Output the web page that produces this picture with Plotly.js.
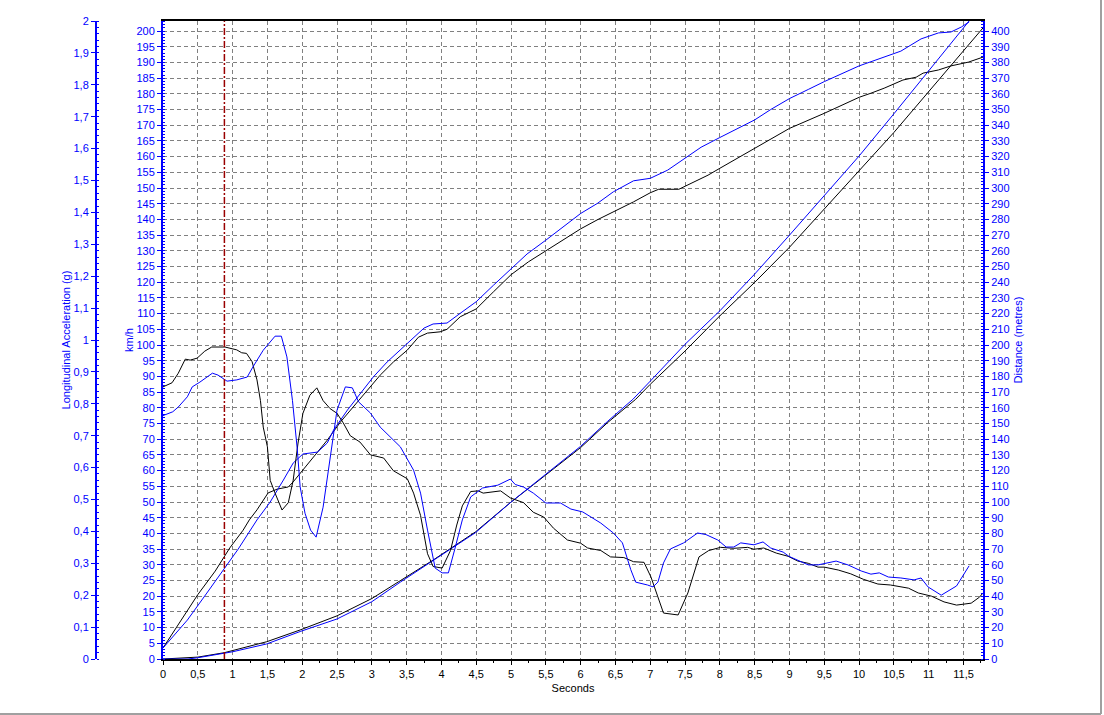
<!DOCTYPE html>
<html>
<head>
<meta charset="utf-8">
<script src="https://cdn.plot.ly/plotly-3.0.1.min.js"></script>
<style>
html,body{margin:0;padding:0;background:#fff;}
#chart{width:1104px;height:715px;}
</style>
</head>
<body>
<div id="chart"></div>
<script>
// ---- Run A (black) ----
var tAccA = [0,0.13,0.22,0.32,0.39,0.49,0.60,0.70,0.89,1.06,1.13,1.20,1.28,1.35,1.40,1.44,1.50,1.54,1.61,1.71,1.80,1.87,1.94,2.01,2.11,2.21,2.30,2.40,2.50,2.59,2.69,2.83,2.98,3.17,3.31,3.41,3.51,3.60,3.70,3.80,3.88,4.01,4.13,4.22,4.30,4.42,4.53,4.60,4.85,4.99,5.18,5.32,5.47,5.61,5.81,6.00,6.10,6.29,6.43,6.62,6.76,6.91,7.01,7.19,7.40,7.54,7.70,7.84,8.01,8.20,8.40,8.49,8.63,8.81,8.98,9.12,9.27,9.41,9.50,9.70,9.88,10.06,10.27,10.45,10.71,10.85,11.04,11.22,11.40,11.61,11.73,11.78];
var accA  = [0.853,0.866,0.896,0.94,0.937,0.943,0.965,0.978,0.978,0.969,0.96,0.958,0.932,0.875,0.81,0.727,0.665,0.56,0.52,0.467,0.49,0.56,0.677,0.77,0.827,0.85,0.81,0.785,0.77,0.74,0.70,0.68,0.64,0.63,0.59,0.577,0.565,0.52,0.45,0.33,0.29,0.285,0.34,0.42,0.48,0.525,0.527,0.52,0.527,0.505,0.49,0.46,0.445,0.41,0.373,0.363,0.348,0.34,0.32,0.318,0.305,0.303,0.257,0.144,0.138,0.207,0.32,0.34,0.35,0.347,0.35,0.344,0.348,0.332,0.322,0.307,0.30,0.288,0.288,0.279,0.267,0.25,0.235,0.232,0.222,0.207,0.197,0.179,0.169,0.175,0.194,0.207];

var tSpdA = [0,0.25,0.50,0.75,0.96,1.15,1.24,1.35,1.51,1.64,1.80,1.87,2.01,2.16,2.36,2.55,2.73,2.94,3.12,3.31,3.51,3.67,3.80,3.98,4.08,4.27,4.50,4.75,5.00,5.25,5.50,5.75,6.00,6.25,6.50,6.76,7.00,7.12,7.41,7.50,7.83,8.00,8.50,9.00,9.50,10.00,10.17,10.36,10.63,10.82,10.92,11.14,11.32,11.57,11.78];
var spdA  = [3.5,12,20.5,28,35.4,41,44.3,47.5,52.9,54.1,54.8,56.4,60.2,64.3,69.7,75.5,80.3,85.7,90.4,94.6,98.4,102.5,103.8,104.2,105,109,111.5,117,122.4,126.5,130,133.5,137,140,142.7,145.6,148.5,149.6,149.6,150.6,154.1,156.3,162.6,169,173.8,178.9,180.2,181.8,184.4,185.3,186.6,187.6,188.9,190.1,191.7];

var tDstA = [0,0.3,0.5,0.88,1.0,1.49,1.97,2.5,3.0,3.41,3.88,4.49,4.99,5.32,6.0,6.39,6.79,7.0,7.5,8.0,8.5,9.0,9.5,10.0,10.5,11.0,11.5,11.78];
var dstA  = [0,0.5,1.2,4.0,5.4,11,18.5,27.5,38.5,50,63,81,99.6,111,134.7,150.7,165.4,175,196.2,218.6,239.9,262.3,286.7,310.5,335.4,361.4,387.5,402];

// ---- Run B (blue) ----
var tAccB = [0,0.14,0.22,0.35,0.42,0.53,0.71,0.79,0.92,1.06,1.21,1.29,1.44,1.61,1.70,1.78,1.86,1.93,1.97,2.04,2.12,2.20,2.30,2.40,2.50,2.62,2.72,2.81,2.98,3.12,3.27,3.41,3.60,3.70,3.80,3.91,4.01,4.10,4.20,4.30,4.42,4.59,4.81,4.99,5.06,5.18,5.32,5.50,5.71,5.86,6.03,6.14,6.29,6.47,6.60,6.72,6.79,6.96,7.04,7.11,7.19,7.29,7.48,7.68,7.80,7.97,8.09,8.20,8.30,8.49,8.62,8.73,8.91,8.99,9.27,9.41,9.53,9.67,9.84,10.03,10.17,10.29,10.42,10.60,10.79,10.89,10.99,11.18,11.40,11.58];
var accB  = [0.763,0.775,0.79,0.822,0.853,0.868,0.896,0.89,0.871,0.875,0.884,0.915,0.968,1.012,1.012,0.947,0.81,0.655,0.54,0.457,0.404,0.382,0.476,0.633,0.78,0.853,0.85,0.806,0.771,0.727,0.696,0.665,0.592,0.52,0.404,0.285,0.27,0.27,0.351,0.436,0.508,0.536,0.545,0.564,0.547,0.539,0.52,0.489,0.489,0.47,0.461,0.445,0.426,0.395,0.364,0.28,0.241,0.232,0.226,0.241,0.301,0.345,0.364,0.395,0.39,0.373,0.351,0.351,0.364,0.358,0.367,0.348,0.335,0.322,0.295,0.295,0.301,0.307,0.295,0.276,0.266,0.27,0.257,0.254,0.248,0.254,0.226,0.2,0.229,0.292];

var tSpdB = [0,0.35,0.63,0.86,1.08,1.35,1.54,1.73,1.87,2.01,2.22,2.36,2.45,2.65,2.84,3.02,3.22,3.41,3.60,3.75,3.88,4.08,4.27,4.50,4.75,5.00,5.23,5.50,5.76,6.00,6.24,6.47,6.76,7.00,7.25,7.50,7.73,8.00,8.30,8.50,8.73,9.00,9.27,9.50,10.00,10.36,10.60,10.89,11.14,11.32,11.47,11.58];
var spdB  = [3.5,12.4,21,28.3,35,44.3,50,57,62.4,65.3,65.9,68.8,72.9,79.3,84.7,89.8,94.6,98.4,102.5,105.4,106.7,107,110.1,113.8,119.1,124.4,129,133.4,137.7,141.9,145.1,148.8,152.3,153.1,155.7,159.5,163,166.1,169.5,171.7,175,178.5,181.4,183.9,188.9,191.7,193.6,197.5,199.4,199.7,201.3,202.9];

var tDstB = [0,0.36,0.5,0.88,1.0,1.49,1.97,2.5,3.0,3.41,3.88,4.49,4.99,5.32,6.0,6.39,6.75,7.0,7.5,8.0,8.5,9.0,9.5,10.0,10.5,11.0,11.5,11.58];
var dstB  = [0,0,0.8,3.5,4.6,9.6,17.5,25.5,36.5,49,62.5,80.5,99.6,111.5,135.5,151.5,165.4,177,200.5,221.8,245.2,270,295.2,320.4,347.3,374.6,402,406.4];

var markerTime = 0.882;

var BLUE = '#0000ff';
var FONT = 'Liberation Sans, Arial, sans-serif';

function ln(x, y, color, yaxis) {
  return {x: x, y: y, type: 'scatter', mode: 'lines', yaxis: yaxis,
          line: {color: color, width: 1}, hoverinfo: 'skip', showlegend: false};
}

var data = [
  ln(tDstA, dstA, '#000000', 'y2'),
  ln(tDstB, dstB, BLUE, 'y2'),
  ln(tSpdA, spdA, '#000000', 'y'),
  ln(tSpdB, spdB, BLUE, 'y'),
  ln(tAccA, accA, '#000000', 'y3'),
  ln(tAccB, accB, BLUE, 'y3')
];

var L = 30, R = 121, W = 1104;
var pw = W - L - R;
var xStart = (163 - L) / pw;
var y3pos = (96 - L) / pw;

var layout = {
  width: 1104, height: 715,
  margin: {l: L, r: R, t: 21, b: 56, pad: 0},
  paper_bgcolor: '#ffffff', plot_bgcolor: '#ffffff',
  separators: ',.',
  font: {family: FONT, size: 11, color: BLUE},
  showlegend: false,
  xaxis: {
    domain: [xStart, 1], range: [0, 11.78], dtick: 0.5, tick0: 0,
    showline: true, linecolor: '#000000', linewidth: 2, mirror: true,
    ticks: 'outside', ticklen: 4, tickcolor: '#000000', tickwidth: 1,
    minor: {dtick: 0.25, ticks: 'outside', ticklen: 2, tickcolor: '#000000', showgrid: false},
    showgrid: true, gridcolor: '#808080', griddash: '4px,3px', gridwidth: 1,
    zeroline: false,
    tickfont: {family: FONT, size: 11, color: '#000000'},
    title: {text: 'Seconds', font: {family: FONT, size: 11, color: '#000000'}, standoff: 5}
  },
  yaxis: {
    range: [0, 203.2], dtick: 5, tick0: 0,
    showline: true, linecolor: BLUE, linewidth: 2,
    ticks: 'outside', ticklen: 4, tickcolor: BLUE,
    minor: {dtick: 1, ticks: 'inside', ticklen: 2, tickcolor: BLUE, showgrid: false},
    showgrid: true, gridcolor: '#808080', griddash: '4px,3px', gridwidth: 1,
    zeroline: false,
    tickfont: {family: FONT, size: 11, color: BLUE},
    title: {text: 'km/h', font: {family: FONT, size: 11, color: BLUE}, standoff: 1}
  },
  yaxis2: {
    overlaying: 'y', side: 'right', anchor: 'x',
    range: [0, 406.4], dtick: 10, tick0: 0,
    showline: true, linecolor: BLUE, linewidth: 2,
    ticks: 'outside', ticklen: 4, tickcolor: BLUE,
    minor: {dtick: 2, ticks: 'inside', ticklen: 2, tickcolor: BLUE, showgrid: false},
    showgrid: false, zeroline: false,
    tickfont: {family: FONT, size: 11, color: BLUE},
    title: {text: 'Distance (metres)', font: {family: FONT, size: 11, color: BLUE}, standoff: 6}
  },
  yaxis3: {
    overlaying: 'y', side: 'left', anchor: 'free', position: y3pos,
    range: [0, 2], dtick: 0.1, tick0: 0,
    showline: true, linecolor: BLUE, linewidth: 2,
    ticks: 'outside', ticklen: 4, tickcolor: BLUE,
    minor: {dtick: 0.02, ticks: 'inside', ticklen: 2, tickcolor: BLUE, showgrid: false},
    showgrid: false, zeroline: false,
    tickfont: {family: FONT, size: 11, color: BLUE},
    title: {text: 'Longitudinal Acceleration (g)', font: {family: FONT, size: 11, color: BLUE}, standoff: 0}
  },
  shapes: [
    {type: 'line', xref: 'x', yref: 'paper', x0: markerTime, x1: markerTime, y0: 0, y1: 1,
     line: {color: '#990000', width: 1.5, dash: '7px,2px,2px,2px'}},
    {type: 'line', xref: 'paper', yref: 'paper', x0: -L / pw, x1: (1101 - L) / pw, y0: 1 - 693 / 638, y1: 1 - 693 / 638,
     line: {color: '#a0a0a0', width: 2}},
    {type: 'line', xref: 'paper', yref: 'paper', x0: (1101 - L) / pw, x1: (1101 - L) / pw, y0: 1 - 693 / 638, y1: 1 + 21 / 638,
     line: {color: '#a0a0a0', width: 2}}
  ]
};

Plotly.newPlot('chart', data, layout, {staticPlot: true, displayModeBar: false});
</script>
</body>
</html>
